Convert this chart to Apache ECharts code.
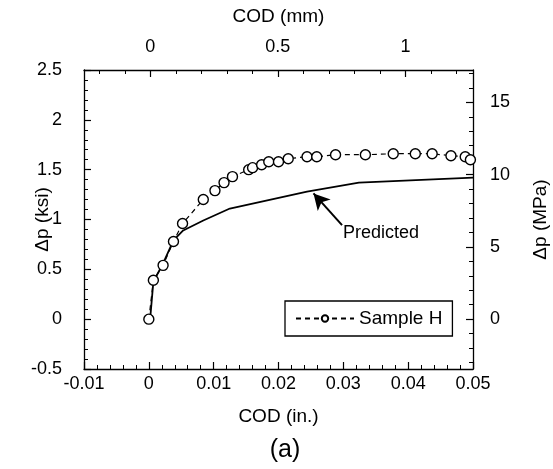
<!DOCTYPE html>
<html>
<head>
<meta charset="utf-8">
<script src="https://cdn.jsdelivr.net/npm/echarts@6/dist/echarts.min.js"></script>
<style>
  html, body { margin: 0; padding: 0; background: #fff; }
  #chart { width: 553px; height: 469px; }
</style>
</head>
<body>
<div id="chart"></div>
<script>
// Sample H measurements: COD (in.) and delta p (ksi)
const sampleX = [0, 0.0007, 0.0022, 0.0038, 0.0052, 0.0084, 0.0102, 0.0116, 0.0129, 0.0154, 0.016, 0.0174, 0.0185,
    0.02, 0.0215, 0.0244, 0.0259, 0.0288, 0.0334, 0.0377, 0.0411, 0.0437, 0.0466, 0.0488, 0.0496]
const sampleY = [0, 0.39, 0.54, 0.78, 0.96, 1.20, 1.29, 1.37, 1.43, 1.50, 1.52, 1.55, 1.58,
    1.58, 1.61, 1.63, 1.63, 1.65, 1.65, 1.66, 1.66, 1.66, 1.64, 1.63, 1.60]

// predicted curve
const predX = [0.0002, 0.0007, 0.0022, 0.0038, 0.0053, 0.0084, 0.0125, 0.0244, 0.0324, 0.05]
const predY = [0, 0.375, 0.56, 0.79, 0.89, 0.99, 1.11, 1.28, 1.37, 1.42]

// secondary axes (mm on top, MPa on right)
const mmLabels = [0, 0.5, 1]
const mmMinor = [-0.2, -0.1, 0.1, 0.2, 0.3, 0.4, 0.6, 0.7, 0.8, 0.9, 1.1, 1.2]
const mpaLabels = [0, 5, 10, 15]
const mpaMinor = [-3, -2, -1, 1, 2, 3, 4, 6, 7, 8, 9, 11, 12, 13, 14, 16, 17]

// arrow pointing at the predicted curve: [tail, tip]
const arrowFrom = [0.0298, 0.944]
const arrowTo = [0.0254, 1.262]

const FONT = 'Arial, "Liberation Sans", Helvetica, sans-serif'
const KSI_TO_MPA = 6.895
const yMin = -0.5, yMax = 2.5

const axisLine = { show: true, onZero: false, lineStyle: { color: '#000', width: 1.3 } }
const label = { color: '#000', fontSize: 18, fontFamily: FONT }
const nameStyle = { color: '#000', fontSize: 19, fontFamily: FONT }

const chart = echarts.init(document.getElementById('chart'))

chart.setOption({
    backgroundColor: '#fff',
    animation: false,
    grid: { left: 84, right: 80, top: 70, bottom: 100, outerBoundsMode: 'none', containLabel: false },
    legend: {
        data: ['Sample H'],
        left: 285,
        top: 301,
        orient: 'horizontal',
        backgroundColor: '#fff',
        borderColor: '#000',
        borderWidth: 1.3,
        borderRadius: 0,
        padding: [8, 10, 8, 10],
        itemWidth: 58,
        itemHeight: 8,
        itemGap: 4,
        textStyle: { color: '#000', fontSize: 19, fontFamily: FONT }
    },
    xAxis: [
        {
            type: 'value', position: 'bottom',
            min: -0.01, max: 0.05, interval: 0.01,
            name: 'COD (in.)', nameLocation: 'middle', nameGap: 38, nameMoveOverlap: false,
            nameTextStyle: nameStyle,
            axisLine: axisLine,
            axisTick: { show: true, inside: true, length: 7, lineStyle: { color: '#000', width: 1.2 } },
            minorTick: { show: true, splitNumber: 5, length: 4, lineStyle: { color: '#000', width: 1 } },
            axisLabel: { ...label, margin: 6 },
            splitLine: { show: false }
        },
        {
            type: 'value', position: 'top',
            min: -0.26, max: 1.265,
            name: 'COD (mm)', nameLocation: 'middle', nameGap: 44, nameMoveOverlap: false,
            nameTextStyle: nameStyle,
            axisLine: axisLine,
            axisTick: { show: true, inside: true, length: 7, customValues: mmLabels, lineStyle: { color: '#000', width: 1.2 } },
            axisLabel: { ...label, margin: 14, customValues: mmLabels },
            splitLine: { show: false }
        },
        {
            type: 'value', position: 'top',
            min: -0.26, max: 1.265,
            axisLine: { show: false, onZero: false },
            axisTick: { show: true, inside: true, length: 4, customValues: mmMinor, lineStyle: { color: '#000', width: 1 } },
            axisLabel: { show: false },
            splitLine: { show: false }
        }
    ],
    yAxis: [
        {
            type: 'value', position: 'left',
            min: yMin, max: yMax, interval: 0.5,
            name: 'Δp (ksi)', nameLocation: 'middle', nameGap: 32, nameMoveOverlap: false,
            nameTextStyle: nameStyle,
            axisLine: axisLine,
            axisTick: { show: true, inside: true, length: 7, lineStyle: { color: '#000', width: 1.2 } },
            minorTick: { show: true, splitNumber: 5, length: 4, lineStyle: { color: '#000', width: 1 } },
            axisLabel: { ...label, margin: 22 },
            splitLine: { show: false }
        },
        {
            type: 'value', position: 'right',
            min: yMin * KSI_TO_MPA, max: yMax * KSI_TO_MPA,
            name: 'Δp (MPa)', nameLocation: 'middle', nameGap: 58, nameMoveOverlap: false,
            nameTextStyle: nameStyle,
            axisLine: axisLine,
            axisTick: { show: true, inside: true, length: 7, customValues: mpaLabels, lineStyle: { color: '#000', width: 1.2 } },
            axisLabel: { ...label, margin: 17, customValues: mpaLabels },
            splitLine: { show: false }
        },
        {
            type: 'value', position: 'right',
            min: yMin * KSI_TO_MPA, max: yMax * KSI_TO_MPA,
            axisLine: { show: false, onZero: false },
            axisTick: { show: true, inside: true, length: 4, customValues: mpaMinor, lineStyle: { color: '#000', width: 1 } },
            axisLabel: { show: false },
            splitLine: { show: false }
        }
    ],
    series: [
        {
            name: 'Predicted',
            type: 'line',
            data: predX.map((x, i) => [x, predY[i]]),
            showSymbol: false,
            symbol: 'none',
            lineStyle: { color: '#000', width: 1.8 },
            z: 2,
            markLine: {
                silent: true,
                symbol: ['none', 'arrow'],
                symbolSize: [13, 16],
                label: { show: false },
                lineStyle: { color: '#000', width: 2, type: 'solid' },
                data: [[{ coord: arrowFrom }, { coord: arrowTo }]]
            }
        },
        {
            name: 'Sample H',
            type: 'line',
            data: sampleX.map((x, i) => [x, sampleY[i]]),
            symbol: 'circle',
            symbolSize: 10,
            itemStyle: { color: '#fff', borderColor: '#000', borderWidth: 1.4 },
            lineStyle: { color: '#000', width: 1.2, type: [5, 4] },
            z: 3
        }
    ],
    graphic: [
        {
            type: 'text', left: 343, top: 224,
            style: { text: 'Predicted', fill: '#000', font: '18px ' + FONT }
        },
        {
            type: 'text', x: 285, y: 450,
            style: { text: '(a)', fill: '#000', font: '25px ' + FONT, align: 'center', verticalAlign: 'middle' }
        }
    ]
})
</script>
</body>
</html>
